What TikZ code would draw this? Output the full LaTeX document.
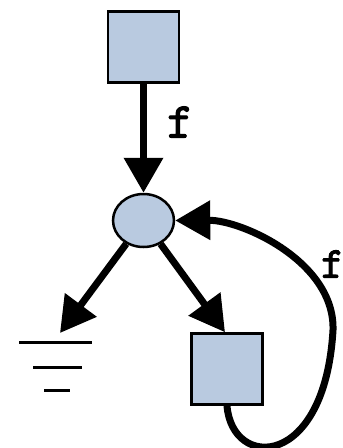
\documentclass[tikz,border=0pt]{standalone}
\usepackage{fontspec}
\newfontfamily\flabel[FakeBold=2.5]{Latin Modern Mono}
\usetikzlibrary{arrows.meta,shapes.geometric}
\definecolor{boxblue}{RGB}{185,202,224}
\tikzset{
  box/.style={draw,line width=2.5pt,fill=boxblue,minimum size=71pt,inner sep=0pt},
  disc/.style={ellipse,draw,line width=2.5pt,fill=boxblue,minimum width=61pt,minimum height=53pt,inner sep=0pt},
  flow/.style={line width=7pt,-{Triangle[length=35pt,width=38pt]}},
  lbl/.style={font=\flabel\fontsize{50}{50}\selectfont,inner sep=0pt}
}
\begin{document}
\begin{tikzpicture}[x=1pt,y=-1pt]
    \useasboundingbox (0,0) rectangle (343,448);
    \node[box](src)at(143.5,47){};
    \node[disc](hub)at(143.5,220.5){};
    \node[box](sink)at(227,369){};
    \coordinate(gnd)at(60,333);

    % ground
    \draw[line width=3pt](19,342)--(92,342);
    \draw[line width=3pt](33,367)--(82,367);
    \draw[line width=3pt](44,390)--(70,390);

    \draw[flow](sink.south)..controls(232,470)and(325,470)..(333,330)
        ..controls(335,262)and(242,220)..(hub.east);
    \draw[flow](src)--(hub);
    \draw[flow](hub)--(gnd);
    \draw[flow](hub)--([xshift=-2pt]sink.north);
    \node[lbl](lt)at(180,122){f};
    \node[lbl,font=\flabel\fontsize{44}{44}\selectfont,anchor=east](lp)at(344,264){f};
\end{tikzpicture}
\end{document}
